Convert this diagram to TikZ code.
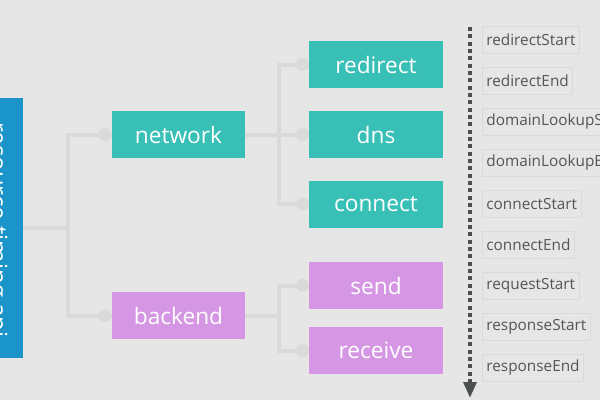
\documentclass[tikz,border=0pt]{standalone}
\usepackage{fontspec}
\setmainfont{Open Sans}
\usetikzlibrary{arrows.meta}
\definecolor{bggray}{HTML}{E6E6E6}
\definecolor{linegray}{HTML}{DADADA}
\definecolor{apiblue}{HTML}{1B95C9}
\definecolor{netteal}{HTML}{38BFB6}
\definecolor{backpurple}{HTML}{D596E3}
\definecolor{arrowgray}{HTML}{4B504E}
\definecolor{labelgray}{HTML}{555555}

\begin{document}
\begin{tikzpicture}[x=0.75pt,y=-0.75pt,
    box/.style={minimum width=100pt,minimum height=35.25pt,inner sep=0pt,text=white,font=\fontsize{17}{19}\selectfont},
    netbox/.style={box,fill=netteal},
    backbox/.style={box,fill=backpurple},
    link/.style={draw=linegray,line width=3pt},
    stamp/.style={draw=linegray,line width=0.6pt,text=labelgray,inner sep=3pt,minimum height=20.25pt,anchor=west,font=\fontsize{11.5}{13}\selectfont}]
    \clip (0,0) rectangle (600,400);
    \fill[bggray] (0,0) rectangle (600,400);
    % left bar
    \node (api) at (0,228) [fill=apiblue,minimum width=34.5pt,minimum height=195pt,inner sep=0pt] {};
    \node (apilabel) at (-10,230) [rotate=-90,anchor=base,text=white,font=\fontsize{18}{20}\selectfont] {resource timing api};
    % tree
    \node (network) at (178.5,134.5) [netbox] {network};
    \node (backend) at (178.5,315.5) [backbox] {backend};
    \node (redirect) at (376,64.5) [netbox] {redirect};
    \node (dns) at (376,134.5) [netbox] {dns};
    \node (connect) at (376,204) [netbox] {connect};
    \node (send) at (376,285.5) [backbox] {send};
    \node (receive) at (376,350.5) [backbox] {receive};
    \coordinate (trunk) at (68,228);
    \draw[link] (api.east) -- (trunk);
    \foreach \n in {network,backend}
        \draw[link] (trunk) |- (\n.west);
    \foreach \n in {redirect,dns,connect}
        \draw[link] (network.east) -- ++(34,0) |- (\n.west);
    \foreach \n in {send,receive}
        \draw[link] (backend.east) -- ++(34,0) |- (\n.west);
    \foreach \n in {network,backend,redirect,dns,connect,send,receive}
        \fill[linegray] ([xshift=-4.9pt]\n.west) circle (6.5);
    % timeline
    \coordinate (tltop) at (470,27);
    \coordinate (tlend) at (470,398);
    \draw[arrowgray,line width=3pt,dash pattern=on 3pt off 2.5pt,-{Triangle[width=9.5pt,length=12pt]}] (tltop) -- (tlend);
    \foreach \t [count=\i] in {redirectStart,redirectEnd,domainLookupStart,domainLookupEnd,connectStart,connectEnd,requestStart,responseStart,responseEnd}
        \node (stamp\i) at (482,-1+41*\i) [stamp] {\t};
\end{tikzpicture}
\end{document}
